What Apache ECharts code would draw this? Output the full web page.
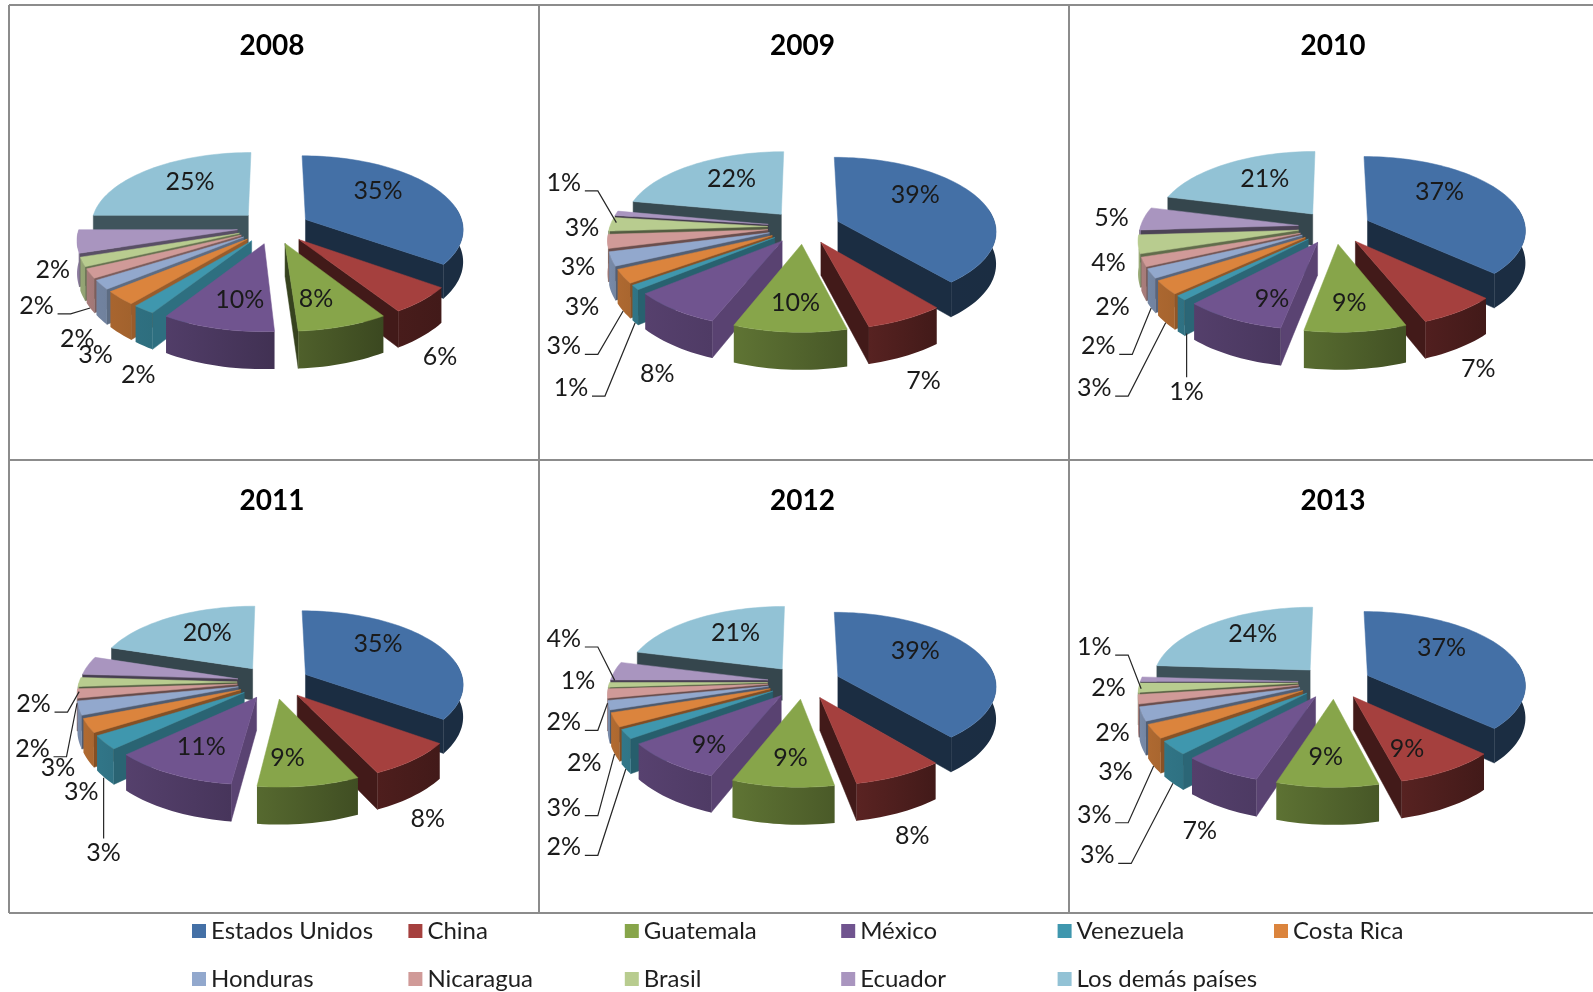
<!DOCTYPE html>
<html>
<head>
<meta charset="utf-8">
<script src="https://cdn.jsdelivr.net/npm/echarts@6/dist/echarts.min.js"></script>
<style>
  html, body { margin: 0; padding: 0; background: #fff; }
  #chart { width: 1593px; height: 992px; }
</style>
</head>
<body>
<div id="chart"></div>
<script>
const years = ["2008", "2009", "2010", "2011", "2012", "2013"];
const categories = ["Estados Unidos", "China", "Guatemala", "México", "Venezuela", "Costa Rica",
  "Honduras", "Nicaragua", "Brasil", "Ecuador", "Los demás países"];

const values2008 = [35, 6, 8, 10, 2, 3, 2, 2, 2, 5, 25];
const values2009 = [39, 7, 10, 8, 1, 3, 3, 3, 3, 1, 22];
const values2010 = [37, 7, 9, 9, 1, 3, 2, 2, 4, 5, 21];
const values2011 = [35, 8, 9, 11, 3, 3, 3, 2, 2, 4, 20];
const values2012 = [39, 8, 9, 9, 2, 3, 2, 2, 1, 4, 21];
const values2013 = [37, 9, 9, 7, 3, 3, 3, 2, 2, 1, 24];
const yearValues = [values2008, values2009, values2010, values2011, values2012, values2013];

const colors = ["#4470a6", "#a5403e", "#87a54a", "#70548f", "#3f97ae", "#db843d",
  "#92a8cd", "#d09a98", "#b8cc8f", "#a995bf", "#92c2d5"];

// label centres, read in the 1568 wide picture, scaled up below. null = no label in the original
const S = 1593 / 1568;
const labelPos = [
  [[372,187],[433,350],[311,293],[236,294],[136,368],[94,348],[76,333],[36,300],[52,265],null,[187,178]],
  [[901,191],[909,374],[783,297],[647,367],[562,381],[555,340],[573,301],[569,262],[573,223],[555,179],[720,175]],
  [[1417,188],[1455,362],[1328,297],[1252,293],[1168,385],[1077,381],[1081,340],[1095,301],[1091,258],[1094,214],[1245,175]],
  [[372,633],[421,805],[283,745],[198,734],[102,839],[80,779],[57,755],[32,736],[33,692],null,[204,622]],
  [[901,640],[898,822],[778,745],[698,732],[555,833],[555,794],[575,750],[555,710],[569,669],[555,628],[724,622]],
  [[1419,637],[1385,736],[1305,744],[1181,817],[1080,841],[1077,801],[1098,759],[1095,720],[1091,676],[1077,636],[1233,623]],
];
// slices whose label is tied by a leader line; up = line leaves the top of the label
const leaders = [
  { side: [7], up: [] },
  { side: [4, 5, 9], up: [] },
  { side: [5, 6], up: [4] },
  { side: [7, 8], up: [4] },
  { side: [4, 5, 7, 9], up: [] },
  { side: [4, 5, 9], up: [] },
];

const PANEL_W = 530.5;
const PANEL_H = 455;
const CX = 273.5;
const CY = 227;
const R = 158;
const TILT_R = 73;
const WALL = 32;
const PERSP = 0.12;
const EXPLODE = 0.23;
const FONT = "Lato, 'Open Sans', sans-serif";

const toRad = (d) => (d * Math.PI) / 180;

const mix = (hex, f) => {
  const n = parseInt(hex.slice(1), 16);
  const c = [(n >> 16) & 255, (n >> 8) & 255, n & 255].map((v) => Math.round(v * f));
  return `rgb(${c[0]},${c[1]},${c[2]})`;
};

const rimShade = (deg) => {
  if (deg < 140) return 0.4;
  if (deg < 200) return 0.4 + ((deg - 140) / 60) * 0.3;
  return 0.7 + ((deg - 200) / 70) * 0.15;
};

const renderSlice = (params, api) => {
  const yearIdx = api.value(0);
  const value = api.value(1);
  const catIdx = params.seriesIndex;
  const row = yearValues[yearIdx];
  const total = row.reduce((a, b) => a + b, 0);
  const before = row.slice(0, catIdx).reduce((a, b) => a + b, 0);
  const a = (before / total) * 360;
  const b = ((before + value) / total) * 360;
  const mid = (a + b) / 2;

  const cx = CX + PANEL_W * (yearIdx % 3);
  const cy = CY + PANEL_H * Math.floor(yearIdx / 3);
  const ox = EXPLODE * Math.sin(toRad(mid));
  const oy = -EXPLODE * Math.cos(toRad(mid));

  const project = (x, y, z) => {
    const s = 1 / (1 - PERSP * y);
    return [cx + R * x * s, cy + TILT_R * y * s + WALL * z * s];
  };
  const rim = (deg, z) => project(ox + Math.sin(toRad(deg)), oy - Math.cos(toRad(deg)), z);
  const apex = (z) => project(ox, oy, z);

  const arc = (from, to, z) => {
    const pts = [];
    const n = Math.max(2, Math.ceil((to - from) / 2));
    for (let i = 0; i <= n; i++) pts.push(rim(from + ((to - from) * i) / n, z));
    return pts;
  };

  const color = colors[catIdx];
  const base = Math.round((oy / EXPLODE + 1) * 100) * 4 + 10;
  const children = [];
  const poly = (points, fill, z2) =>
    children.push({ type: "polygon", shape: { points }, style: { fill, stroke: fill, lineWidth: 0.5 }, z2, silent: true });

  // side walls first, the top face goes over them
  if (Math.sin(toRad(a)) < 0) {
    const f = Math.max(0.36, Math.min(0.8, 0.8 - ((a - 200) / 80) * 0.42));
    poly([apex(0), rim(a, 0), rim(a, 1), apex(1)], mix(color, f), base);
  }
  if (Math.sin(toRad(b)) > 0) {
    poly([apex(0), rim(b, 0), rim(b, 1), apex(1)], mix(color, 0.4), base);
  }
  const from = Math.max(a, 80);
  const to = Math.min(b, 270);
  if (to > from) {
    const fill = new echarts.graphic.LinearGradient(0, 0, 1, 0, [
      { offset: 0, color: mix(color, rimShade(to)) },
      { offset: 1, color: mix(color, rimShade(from)) },
    ]);
    const pts = arc(from, to, 0).concat(arc(from, to, 1).reverse());
    children.push({ type: "polygon", shape: { points: pts }, style: { fill }, z2: base + 1, silent: true });
  }
  poly([apex(0)].concat(arc(a, b, 0)), color, base + 2);

  // label
  const pos = labelPos[yearIdx][catIdx];
  if (pos) {
    const lx = pos[0] * S;
    const ly = pos[1] * S;
    children.push({
      type: "text",
      z2: 5000,
      silent: true,
      style: { text: `${value}%`, x: lx, y: ly + 1, fill: "#1a1a1a", font: `25px ${FONT}`, align: "center", verticalAlign: "middle" },
    });
    const ln = leaders[yearIdx];
    let points = null;
    if (ln.side.includes(catIdx)) {
      const anchor = rim(mid, Math.cos(toRad(mid)) < -0.35 ? 1 : 0.3);
      points = [[lx + 21, ly + 9], [lx + 34, ly + 9], anchor];
    } else if (ln.up.includes(catIdx)) {
      points = [[lx, ly - 14], [lx, rim(mid, 1)[1]]];
    }
    if (points) {
      children.push({
        type: "polyline",
        z2: 5001,
        silent: true,
        shape: { points },
        style: { stroke: "#262626", lineWidth: 1.2, fill: "none" },
      });
    }
  }
  return { type: "group", children };
};

const legendColumns = [0, 1, 2, 3, 4, 5].map((col) => ({
  left: 192 + col * 216.4,
  top: 919,
  height: 73,
  orient: "vertical",
  icon: "rect",
  itemWidth: 14,
  itemHeight: 14,
  itemGap: 24,
  padding: 0,
  selectedMode: false,
  data: categories.filter((_, i) => i % 6 === col),
  textStyle: { fontFamily: FONT, fontSize: 24, color: "#1f1f1f", padding: 0 },
}));

const titles = years.map((y, i) => ({
  text: y,
  left: 272 + PANEL_W * (i % 3),
  top: 32 + PANEL_H * Math.floor(i / 3),
  textAlign: "center",
  padding: 0,
  textStyle: { fontFamily: FONT, fontSize: 28, fontWeight: "bold", color: "#000" },
}));

const frameLine = (x1, y1, x2, y2) => ({
  type: "line",
  silent: true,
  shape: { x1, y1, x2, y2 },
  style: { stroke: "#8c8c8c", lineWidth: 2 },
});

const option = {
  animation: false,
  backgroundColor: "#fff",
  title: titles,
  legend: legendColumns,
  tooltip: { show: false },
  graphic: [
    frameLine(9, 5, 1593, 5),
    frameLine(9, 460, 1593, 460),
    frameLine(9, 913, 1593, 913),
    frameLine(9, 5, 9, 913),
    frameLine(539, 5, 539, 913),
    frameLine(1069, 5, 1069, 913),
  ],
  series: categories.map((name, c) => ({
    type: "custom",
    name,
    coordinateSystem: "none",
    renderItem: renderSlice,
    itemStyle: { color: colors[c] },
    data: yearValues.map((row, y) => [y, row[c]]),
  })),
};

const chart = echarts.init(document.getElementById("chart"), null, { renderer: "canvas" });
chart.setOption(option);
</script>
</body>
</html>
